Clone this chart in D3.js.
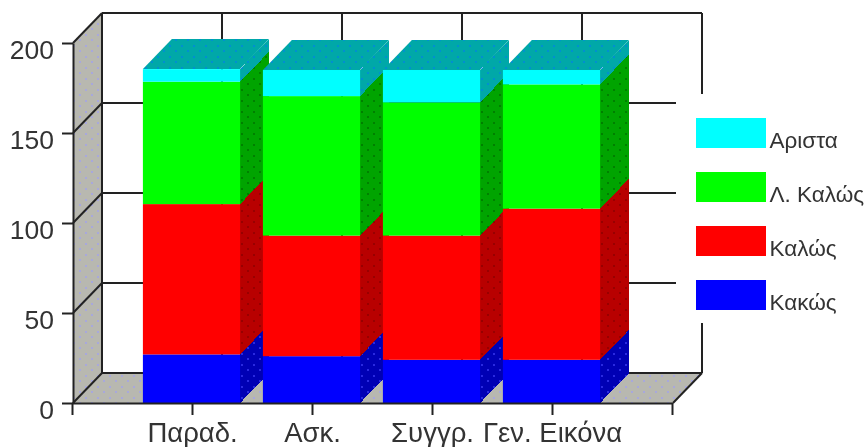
<!DOCTYPE html>
<meta charset="utf-8">
<style>
  body { margin: 0; background: white; }
  svg { display: block; filter: blur(0.4px); }
  text { font-family: "Liberation Sans", Arial, sans-serif; fill: #333; }
  .tick text { font-size: 27.5px; }
  .y-axis .tick text { font-size: 26.5px; }
  .legend-label { font-size: 22.5px; }
  .domain, .tick line, .frame { stroke: #222; stroke-width: 2px; fill: none; }
</style>
<script src="https://d3js.org/d3.v7.min.js"></script>
<div id="chart"></div>
<script>
// data
var categories = ["Παραδ.", "Ασκ.", "Συγγρ.", "Γεν. Εικόνα"];
var seriesNames = ["Κακώς", "Καλώς", "Λ. Καλώς", "Αριστα"];
var kakos = [27, 26, 24, 24];
var kalos = [83.5, 67, 69, 84];
var lianKalos = [68, 77.5, 74, 69];
var arista = [7, 14.5, 18, 8];
var yTicks = [0, 50, 100, 150, 200];

var frontColors = ["#0000ff", "#ff0000", "#00ff00", "#00ffff"];
var sideColors = ["#0000b4", "#b80000", "#00a400", "#00a8a8"];
var sideDots = ["#2a2ae0", "#980000", "#008000", "#0090d0"];

var width = 867, height = 447;
var margin = {left: 73, right: 194, top: 43, bottom: 44};
var depthX = 29, depthY = 30;

var svg = d3.select("#chart").append("svg")
    .attr("width", width)
    .attr("height", height);

var x = d3.scalePoint()
    .domain(["_start"].concat(categories, ["_end"]))
    .range([margin.left, width - margin.right]);
var y = d3.scaleLinear()
    .domain([0, 200])
    .range([height - margin.bottom, margin.top]);
var barWidth = x.step() * 0.81;

var rows = categories.map(function(c, i) {
  return {cat: c, s0: kakos[i], s1: kalos[i], s2: lianKalos[i], s3: arista[i]};
});
var stacked = d3.stack().keys(["s0", "s1", "s2", "s3"])(rows);

// dither patterns
var defs = svg.append("defs");
function dots(id, base, dot) {
  var p = defs.append("pattern")
      .attr("id", id)
      .attr("width", 12)
      .attr("height", 11)
      .attr("patternUnits", "userSpaceOnUse");
  p.append("rect").attr("width", 12).attr("height", 11).attr("fill", base);
  p.append("rect").attr("x", 1).attr("y", 1).attr("width", 2).attr("height", 2).attr("fill", dot);
  p.append("rect").attr("x", 7).attr("y", 6).attr("width", 2).attr("height", 2).attr("fill", dot);
}
dots("wall", "#b8b8b0", "#a8a8dc");
sideColors.forEach(function(c, i) { dots("side" + i, c, sideDots[i]); });

var x0 = x.range()[0], x1 = x.range()[1], y0 = y(0), yTop = y(200);

// left wall and floor
svg.append("path")
    .attr("fill", "url(#wall)")
    .attr("d", d3.line()([[x0, y0], [x0, yTop], [x0 + depthX, yTop - depthY], [x0 + depthX, y0 - depthY]]));
svg.append("path")
    .attr("fill", "url(#wall)")
    .attr("d", d3.line()([[x0, y0], [x0 + depthX, y0 - depthY], [x1 + depthX, y0 - depthY], [x1, y0]]));

// back wall grid
var back = svg.append("g").attr("transform", "translate(" + depthX + "," + (-depthY) + ")");
back.selectAll(".h")
    .data(yTicks)
    .enter().append("line")
    .attr("class", "frame")
    .attr("x1", x0)
    .attr("x2", x1)
    .attr("y1", function(d) { return y(d); })
    .attr("y2", function(d) { return y(d); });
back.selectAll(".v")
    .data(x.domain())
    .enter().append("line")
    .attr("class", "frame")
    .attr("x1", function(d) { return x(d); })
    .attr("x2", function(d) { return x(d); })
    .attr("y1", y(200))
    .attr("y2", y(0));
yTicks.forEach(function(t) {
  svg.append("line")
      .attr("class", "frame")
      .attr("x1", x0).attr("x2", x0 + depthX)
      .attr("y1", y(t)).attr("y2", y(t) - depthY);
});
svg.append("line")
    .attr("class", "frame")
    .attr("x1", x1).attr("x2", x1 + depthX)
    .attr("y1", y0).attr("y2", y0 - depthY);

// legend box sits over the back wall
svg.append("rect")
    .attr("x", x1 + 3)
    .attr("y", 94)
    .attr("width", width - x1)
    .attr("height", 229)
    .attr("fill", "white");

// bars, left to right so each one covers the side of the last
categories.forEach(function(c, i) {
  var left = x(c) - barWidth / 2 - 1.5, right = left + barWidth;
  var g = svg.append("g");
  stacked.forEach(function(layer, k) {
    var a = y(layer[i][0]), b = y(layer[i][1]);
    g.append("path")
        .attr("fill", "url(#side" + k + ")")
        .attr("shape-rendering", "crispEdges")
        .attr("d", d3.line()([[right, a], [right, b], [right + depthX, b - depthY], [right + depthX, a - depthY]]));
    g.append("rect")
        .attr("x", left)
        .attr("y", b)
        .attr("width", barWidth)
        .attr("height", a - b)
        .attr("fill", frontColors[k]);
  });
  var t = y(stacked[3][i][1]);
  g.append("path")
      .attr("fill", "url(#side3)")
      .attr("d", d3.line()([[left, t], [left + depthX, t - depthY], [right + depthX, t - depthY], [right, t]]));
});

// axes
var yAxis = svg.append("g")
    .attr("class", "y-axis")
    .attr("transform", "translate(" + x0 + ",0)")
    .call(d3.axisLeft(y).tickValues(yTicks).tickSize(11).tickPadding(8).tickSizeOuter(0));
yAxis.selectAll("text").attr("dy", "0.62em").attr("y", -1);

var xAxis = svg.append("g")
    .attr("transform", "translate(-1," + y0 + ")")
    .call(d3.axisBottom(x).tickSize(12).tickPadding(6).tickSizeOuter(0)
      .tickFormat(function(d) { return d.charAt(0) == "_" ? "" : d; }));
xAxis.selectAll("text").attr("y", 39).attr("dy", 0);

// legend
var legendY = d3.scalePoint()
    .domain(seriesNames.slice().reverse())
    .range([118, 280]);
var legend = svg.selectAll(".legend")
    .data(seriesNames)
    .enter().append("g")
    .attr("transform", function(d) { return "translate(696," + legendY(d) + ")"; });
legend.append("rect")
    .attr("width", 70)
    .attr("height", 30)
    .attr("fill", function(d, i) { return frontColors[i]; });
legend.append("text")
    .attr("class", "legend-label")
    .attr("x", 73.5)
    .attr("y", 30)
    .text(function(d) { return d; });
</script>
